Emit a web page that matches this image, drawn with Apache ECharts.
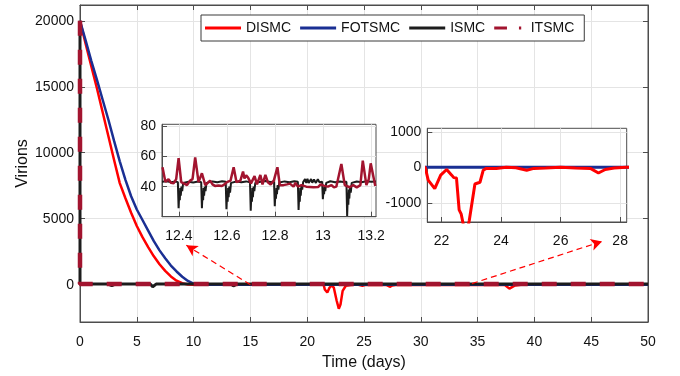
<!DOCTYPE html>
<html><head><meta charset="utf-8">
<script src="https://cdn.jsdelivr.net/npm/echarts@6/dist/echarts.min.js"></script>
<style>html,body{margin:0;padding:0;background:#fff}#c{width:680px;height:376px}</style>
</head><body><div id="c"></div>
<script>
// ---------- data ----------
const seriesNames = ['DISMC', 'FOTSMC', 'ISMC', 'ITSMC'];
const yTicks = [0, 5000, 10000, 15000, 20000];
const inset1XTicks = [12.4, 12.6, 12.8, 13, 13.2];
const inset1YTicks = [40, 60, 80];
const inset2XTicks = [22, 24, 26, 28];
const inset2YTicks = [-1000, 0, 1000];

// [time (days), virions]
const dismc = [[0,20000],[0.5,18250],[1,16550],[1.5,14850],[2,13050],[2.5,11250],[3,9450],[3.5,7700],[4,6550],[4.5,5450],[5,4450],[5.5,3600],[6,2850],[6.5,2150],[7,1550],[7.5,1050],[8,620],[8.5,300],[9,110],[9.5,20],[10,0],
  [21.45,0],[21.55,-360],[21.77,-600],[21.97,-220],[22.17,-60],[22.34,-220],[22.41,-290],[22.5,-300],[22.59,-1200],[22.66,-1320],[22.78,-1820],[22.86,-1800],[22.93,-1500],[23.12,-470],[23.29,-420],[23.4,-80],[23.5,-30],[23.84,-30],[24.17,0],[24.5,-10],[24.86,-80],[25.1,-30],[25.5,-20],[26,0],[26.5,-20],[27,-30],[27.27,-160],[27.5,-60],[27.8,-20],[28.2,0],
  [37.4,-20],[37.8,-300],[38.3,-60],[38.8,0],[50,0]];
const fotsmc = [[0,20000],[0.5,18500],[1,16950],[1.5,15500],[2,14000],[2.5,12500],[3,10900],[3.5,9350],[4,7950],[4.5,6700],[5,5700],[5.5,4900],[6,4100],[6.5,3300],[7,2600],[7.5,2000],[8,1450],[8.5,1000],[9,600],[9.5,280],[10,80],[10.5,0],[50,0]];
const ismc = [[0,20000],[0,43],[2.5,43],[2.8,-80],[3.1,43],[6.2,43],[6.4,-160],[6.7,43],[13.3,43],[13.5,-90],[13.8,43],[50,43]];
const itsmc = [[0,20000],[0,43],[50,43]];

// zoomed detail, 12.33 - 13.22 days
const ismcDetail = [[12.33,43.2],[12.35,43.6],[12.37,42.9],[12.385,43.4],
  [12.396,43],[12.399,25.6],[12.402,37],[12.404,31],[12.406,39],[12.408,34],[12.411,40],[12.414,37],[12.418,42.5],
  [12.44,43.3],[12.46,42.8],[12.48,43.4],
  [12.493,43],[12.496,25.6],[12.499,37],[12.501,31],[12.503,39],[12.505,34],[12.508,40],[12.511,37],[12.515,42.5],
  [12.54,43.5],[12.56,43],[12.58,43.6],
  [12.595,43.2],[12.598,25],[12.601,37],[12.603,30],[12.605,39],[12.607,33],[12.610,40],[12.613,36],[12.617,42.5],
  [12.64,43.4],[12.66,42.9],[12.68,43.5],
  [12.696,43],[12.699,24],[12.702,36],[12.704,30],[12.706,39],[12.708,33],[12.711,40],[12.714,37],[12.718,42.6],
  [12.74,43.2],[12.76,43.7],[12.78,43.1],
  [12.796,43.3],[12.799,27],[12.802,37],[12.804,32],[12.806,39],[12.808,35],[12.811,41],[12.814,38],[12.818,42.8],
  [12.84,43.5],[12.86,43],[12.88,43.6],
  [12.895,43.2],[12.898,24.5],[12.901,36],[12.903,30],[12.905,39],[12.907,34],[12.910,41],[12.913,38],[12.917,43],
  [12.925,45],[12.93,42.5],[12.935,45.2],[12.94,42.4],[12.95,45],[12.955,42.6],[12.962,44.8],[12.97,42.5],[12.978,45],[12.985,43],
  [12.996,43.2],[12.999,31.6],[13.002,38],[13.004,35],[13.006,40],[13.009,37],[13.013,42.5],
  [13.03,43.6],[13.05,43],[13.07,43.5],[13.085,43.1],
  [13.097,43.3],[13.100,20.5],[13.103,36],[13.105,28],[13.107,38],[13.109,32],[13.112,40],[13.115,36],[13.119,42.5],
  [13.14,43.4],[13.16,43],[13.18,43.6],[13.2,43.2],[13.22,43.5]];
const itsmcDetail = [[12.332,52.9],[12.344,43.3],[12.357,44.9],[12.368,42.5],[12.378,42.2],[12.389,45],[12.399,58.9],[12.41,43],[12.422,42],[12.434,41.1],[12.447,44],[12.457,45],[12.468,59.5],[12.482,43],[12.489,42],[12.496,48.9],[12.51,41],[12.52,42.5],[12.53,44],[12.54,41.5],[12.55,40.5],[12.565,40.8],[12.579,40.4],[12.59,41.5],[12.60,43],[12.615,44],[12.628,52.9],[12.64,43],[12.648,42],[12.656,44],[12.667,50],[12.673,45.5],[12.68,47.5],[12.688,46],[12.70,42.2],[12.715,47],[12.725,41.5],[12.739,47.8],[12.748,41.5],[12.76,47.8],[12.77,43],[12.782,41.5],[12.795,44],[12.81,52.9],[12.82,41],[12.835,41],[12.85,41.5],[12.862,42],[12.877,40],[12.885,42.5],[12.895,40],[12.91,41],[12.93,40],[12.96,39.6],[12.98,39.8],[12.99,41.5],[13.005,40.5],[13.02,40],[13.035,41],[13.045,39.5],[13.055,40],[13.076,55.1],[13.09,41],[13.11,39.6],[13.125,41],[13.14,39.5],[13.155,41],[13.165,57.3],[13.18,41],[13.19,45],[13.198,55.5],[13.217,40.4]];

// zoom-indicator arrows (data coordinates of main axes)
const zoomArrows = [[[15.0, 0], [9.36, 2980]], [[34.5, 80], [45.95, 3280]]];

// ---------- style ----------
const FONT = 'Liberation Sans';
const AX = '#4d4d4d', GRID = '#e4e4e4', TXT = '#111';
const COLORS = {DISMC: '#ff0000', FOTSMC: '#1a2f93', ISMC: '#1c1c1c', ITSMC: '#a2142f'};
const plain = v => String(v);

function mkX(gi, min, max, ticks, opts) {
  return Object.assign({
    type: 'value', gridIndex: gi, min: min, max: max,
    axisLine: {show: true, onZero: false, lineStyle: {color: AX, width: 1}},
    axisTick: {show: true, inside: true, length: 5, customValues: ticks, lineStyle: {color: AX}},
    axisLabel: {show: true, customValues: ticks, formatter: plain, color: TXT, fontSize: 14, fontFamily: FONT, margin: 12},
    splitLine: {show: true, lineStyle: {color: GRID, width: 1}}
  }, opts || {});
}
function mkY(gi, min, max, ticks, opts) {
  return Object.assign({
    type: 'value', gridIndex: gi, min: min, max: max,
    axisLine: {show: true, onZero: false, lineStyle: {color: AX, width: 1}},
    axisTick: {show: true, inside: true, length: 5, customValues: ticks, lineStyle: {color: AX}},
    axisLabel: {show: true, customValues: ticks, formatter: plain, color: TXT, fontSize: 14, fontFamily: FONT, margin: 6},
    splitLine: {show: true, lineStyle: {color: GRID, width: 1}}
  }, opts || {});
}
const xMainTicks = [0,5,10,15,20,25,30,35,40,45,50];

const legendIcons = {
  DISMC: 'rect', FOTSMC: 'rect', ISMC: 'rect',
  ITSMC: 'path://M0,0h17v4h-17z M33,0h3v4h-3z'
};

const chart = echarts.init(document.getElementById('c'), null, {renderer: 'canvas'});
chart.setOption({
  animation: false,
  backgroundColor: '#fff',
  textStyle: {fontFamily: FONT},
  grid: [
    {left: 80, right: 32, top: 5, height: 317, show: true, borderColor: AX, borderWidth: 1, backgroundColor: '#fff', z: 0},
    {left: 162, top: 124.3, width: 214, height: 92.4, show: true, borderColor: AX, borderWidth: 1, backgroundColor: '#fff', z: 5},
    {left: 427.3, top: 128.3, width: 199.4, height: 93.7, show: true, borderColor: AX, borderWidth: 1, backgroundColor: '#fff', z: 5}
  ],
  xAxis: [
    mkX(0, 0, 50, xMainTicks, {name: 'Time (days)', nameLocation: 'middle', nameGap: 33, nameMoveOverlap: false,
      axisLabel: {show: true, customValues: xMainTicks, formatter: plain, color: TXT, fontSize: 14, fontFamily: FONT, margin: 13},
      nameTextStyle: {fontSize: 16, color: TXT, fontFamily: FONT}}),
    mkX(0, 0, 50, xMainTicks, {position: 'top', axisLabel: {show: false}, splitLine: {show: false}}),
    mkX(1, 12.33, 13.22, inset1XTicks, {z: 6}),
    mkX(2, 21.52, 28.22, inset2XTicks, {z: 6})
  ],
  yAxis: [
    mkY(0, -2830, 21200, yTicks, {name: 'Virions', nameLocation: 'middle', nameGap: 49, nameMoveOverlap: false,
      nameTextStyle: {fontSize: 16, color: TXT, fontFamily: FONT}}),
    mkY(0, -2830, 21200, yTicks, {position: 'right', axisLabel: {show: false}, splitLine: {show: false}}),
    mkY(1, 20, 81.5, inset1YTicks, {z: 6}),
    mkY(2, -1540, 1100, inset2YTicks, {z: 6})
  ],
  legend: {
    data: seriesNames.map(n => ({name: n, icon: legendIcons[n], itemStyle: {color: COLORS[n]}})),
    left: 201, top: 15, orient: 'horizontal',
    itemWidth: 36, itemHeight: 3, itemGap: 9, padding: [5, 10, 5, 4],
    backgroundColor: '#fff', borderColor: '#3a3a3a', borderWidth: 1, borderRadius: 0,
    itemStyle: {borderWidth: 0},
    textStyle: {fontSize: 14, color: TXT, fontFamily: FONT, lineHeight: 16}, z: 10
  },
  series: [
    {name: 'DISMC', type: 'line', xAxisIndex: 0, yAxisIndex: 0, data: dismc, symbol: 'none', z: 2,
      lineStyle: {color: COLORS.DISMC, width: 2.5}, itemStyle: {color: COLORS.DISMC},
      markLine: {silent: true, symbol: ['none', 'arrow'], symbolSize: [9, 11], label: {show: false},
        lineStyle: {color: '#ff0000', width: 1.2, type: [6, 4]},
        data: zoomArrows.map(a => [{coord: a[0]}, {coord: a[1]}])}},
    {name: 'FOTSMC', type: 'line', xAxisIndex: 0, yAxisIndex: 0, data: fotsmc, symbol: 'none', z: 2,
      lineStyle: {color: COLORS.FOTSMC, width: 2.5}, itemStyle: {color: COLORS.FOTSMC}},
    {name: 'ISMC', type: 'line', xAxisIndex: 0, yAxisIndex: 0, data: ismc, symbol: 'none', z: 2,
      lineStyle: {color: COLORS.ISMC, width: 3}, itemStyle: {color: COLORS.ISMC}},
    {name: 'ITSMC', type: 'line', xAxisIndex: 0, yAxisIndex: 0, data: itsmc, symbol: 'none', z: 2,
      lineStyle: {color: COLORS.ITSMC, width: 4.5, type: [15, 14]}, itemStyle: {color: COLORS.ITSMC}},
    // inset 1
    {name: 'ISMC', type: 'line', xAxisIndex: 2, yAxisIndex: 2, data: ismcDetail, symbol: 'none', z: 7,
      lineStyle: {color: COLORS.ISMC, width: 2}},
    {name: 'ITSMC', type: 'line', xAxisIndex: 2, yAxisIndex: 2, data: itsmcDetail, symbol: 'none', z: 7,
      lineStyle: {color: COLORS.ITSMC, width: 2.5}},
    // inset 2
    {name: 'FOTSMC', type: 'line', xAxisIndex: 3, yAxisIndex: 3, data: fotsmc, symbol: 'none', z: 7,
      lineStyle: {color: COLORS.FOTSMC, width: 3}},
    {name: 'DISMC', type: 'line', xAxisIndex: 3, yAxisIndex: 3, data: dismc, symbol: 'none', z: 7,
      lineStyle: {color: COLORS.DISMC, width: 3}}
  ]
});
</script></body></html>
